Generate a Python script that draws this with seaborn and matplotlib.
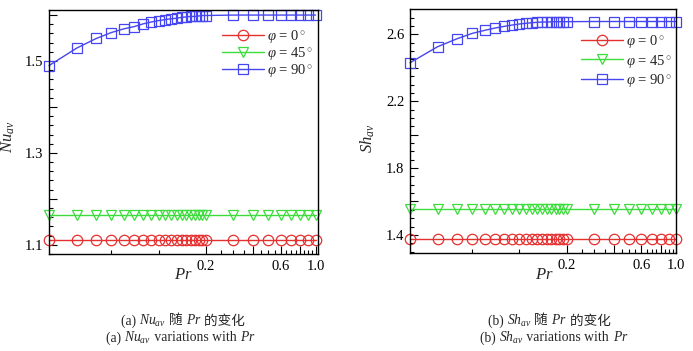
import numpy as np
import pandas as pd
import matplotlib
matplotlib.use("Agg")
import matplotlib.pyplot as plt
from matplotlib.ticker import FixedLocator, FixedFormatter, NullFormatter
import seaborn as sns

# ---------------- data ----------------
pr = [0.02, 0.03, 0.04, 0.05, 0.06, 0.07, 0.08, 0.09, 0.10, 0.11, 0.12, 0.13,
      0.14, 0.15, 0.16, 0.17, 0.18, 0.19, 0.20, 0.3, 0.4, 0.5, 0.6, 0.7, 0.8,
      0.9, 1.0]

nu_0 = [1.110, 1.110, 1.110, 1.110, 1.110, 1.110, 1.110, 1.110, 1.110, 1.110,
        1.110, 1.110, 1.110, 1.110, 1.110, 1.110, 1.110, 1.110, 1.110, 1.110,
        1.110, 1.110, 1.110, 1.110, 1.110, 1.110, 1.110]
nu_45 = [1.164, 1.164, 1.164, 1.164, 1.164, 1.164, 1.164, 1.164, 1.164, 1.164,
         1.164, 1.164, 1.164, 1.164, 1.164, 1.164, 1.164, 1.164, 1.164, 1.164,
         1.164, 1.164, 1.164, 1.164, 1.164, 1.164, 1.164]
nu_90 = [1.490, 1.528, 1.549, 1.562, 1.570, 1.575, 1.581, 1.585, 1.588, 1.590,
         1.592, 1.593, 1.595, 1.596, 1.597, 1.597, 1.598, 1.599, 1.599, 1.600,
         1.600, 1.600, 1.600, 1.600, 1.600, 1.600, 1.600]

sh_0 = [1.375, 1.375, 1.375, 1.375, 1.375, 1.375, 1.375, 1.375, 1.375, 1.375,
        1.375, 1.375, 1.375, 1.375, 1.375, 1.375, 1.375, 1.375, 1.375, 1.375,
        1.375, 1.375, 1.375, 1.375, 1.375, 1.375, 1.375]
sh_45 = [1.554, 1.554, 1.554, 1.554, 1.554, 1.554, 1.554, 1.554, 1.554, 1.554,
         1.554, 1.554, 1.554, 1.554, 1.554, 1.554, 1.554, 1.554, 1.554, 1.554,
         1.554, 1.554, 1.554, 1.554, 1.554, 1.554, 1.554]
sh_90 = [2.430, 2.526, 2.574, 2.606, 2.624, 2.638, 2.648, 2.656, 2.662, 2.666,
         2.670, 2.672, 2.674, 2.674, 2.675, 2.676, 2.676, 2.676, 2.676, 2.677,
         2.677, 2.677, 2.677, 2.677, 2.677, 2.677, 2.677]

series_labels = [r"$\varphi$ = 0$^\circ$", r"$\varphi$ = 45$^\circ$", r"$\varphi$ = 90$^\circ$"]

x_major = [0.2, 0.4, 0.6, 0.8, 1.0]
x_major_labels = ["0.2", "", "0.6", "", "1.0"]
x_minor = [0.05, 0.1, 0.25, 0.3, 0.35, 0.45, 0.5, 0.55, 0.65, 0.7, 0.75,
           0.85, 0.9, 0.95]

nu_major = [1.1, 1.2, 1.3, 1.4, 1.5, 1.6]
nu_major_labels = ["1.1", "", "1.3", "", "1.5", ""]
sh_major = [1.4, 1.6, 1.8, 2.0, 2.2, 2.4, 2.6]
sh_major_labels = ["1.4", "", "1.8", "", "2.2", "", "2.6"]

caption_a1 = ["(a) ", r"$\mathit{Nu}_{\mathit{av}}$", " 随 ", r"$\mathit{Pr}$", " 的变化"]
caption_a2 = ["(a) ", r"$\mathit{Nu}_{\mathit{av}}$", " variations with ", r"$\mathit{Pr}$"]
caption_b1 = ["(b) ", r"$\mathit{Sh}_{\mathit{av}}$", " 随 ", r"$\mathit{Pr}$", " 的变化"]
caption_b2 = ["(b) ", r"$\mathit{Sh}_{\mathit{av}}$", " variations with ", r"$\mathit{Pr}$"]

# ---------------- style ----------------
sns.set_style("ticks")
plt.rcParams["font.family"] = ["Liberation Serif", "Noto Sans CJK SC"]
plt.rcParams["mathtext.fontset"] = "custom"
plt.rcParams["mathtext.rm"] = "Liberation Serif"
plt.rcParams["mathtext.it"] = "Liberation Serif:italic"
plt.rcParams["mathtext.bf"] = "Liberation Serif:bold"

colors = ["#e53030", "#3ddc3d", "#4646f0"]
markers = ["o", "v", "s"]
msizes = [7.5, 7.0, 6.5]

fig = plt.figure(figsize=(6.93, 3.51), dpi=100)
ax1 = fig.add_axes([49 / 693, 1 - 254 / 351, 269 / 693, 244 / 351])
ax2 = fig.add_axes([410 / 693, 1 - 253.3 / 351, 266 / 693, 244 / 351])


def draw(ax, ys, ylim, ymaj, ymaj_lab, ymin_step, xlim, ylabel, ylabel_xy,
         xlabel_xy, leg_anchor, leg_spacing):
    for y, c, m, ms, lab in zip(ys, colors, markers, msizes, series_labels):
        df = pd.DataFrame({"Pr": pr, "v": y})
        sns.lineplot(data=df, x="Pr", y="v", ax=ax, color=c, marker=m,
                     markersize=ms, markerfacecolor="none",
                     markeredgecolor=c, markeredgewidth=0.9, linewidth=1.0,
                     label=lab, clip_on=False)
    ax.set_xscale("log")
    ax.set_xlim(*xlim)
    ax.set_ylim(*ylim)
    ax.xaxis.set_major_locator(FixedLocator(x_major))
    ax.xaxis.set_major_formatter(FixedFormatter(x_major_labels))
    ax.xaxis.set_minor_locator(FixedLocator(x_minor))
    ax.xaxis.set_minor_formatter(NullFormatter())
    ax.yaxis.set_major_locator(FixedLocator(ymaj))
    ax.yaxis.set_major_formatter(FixedFormatter(ymaj_lab))
    yminors = np.arange(ylim[0] - ylim[0] % ymin_step, ylim[1], ymin_step)
    ax.yaxis.set_minor_locator(FixedLocator(list(yminors)))
    ax.yaxis.set_minor_formatter(NullFormatter())
    ax.tick_params(which="both", direction="in", top=False, right=False,
                   colors="black", labelsize=10.5, width=0.8)
    ax.tick_params(which="major", length=6, pad=4)
    ax.tick_params(which="minor", length=3)
    for s in ax.spines.values():
        s.set_visible(True)
        s.set_color("black")
        s.set_linewidth(1.0)
    ax.set_xlabel(r"$\mathit{Pr}$", fontsize=12)
    ax.set_ylabel(ylabel, fontsize=12)
    ax.xaxis.set_label_coords(*xlabel_xy)
    ax.yaxis.set_label_coords(*ylabel_xy)
    ax.legend(loc="center left", bbox_to_anchor=leg_anchor, frameon=False,
              fontsize=10.5, handlelength=2.9, handletextpad=0.2,
              labelspacing=leg_spacing, borderpad=0, borderaxespad=0)


draw(ax1, [nu_0, nu_45, nu_90], (1.080, 1.611), nu_major, nu_major_labels,
     0.02, (0.02, 1.037), r"$\mathit{Nu}_{\mathit{av}}$", (-0.12, 0.48),
     (0.498, -0.055), (0.643, 0.82), 0.0)
draw(ax2, [sh_0, sh_45, sh_90], (1.29, 2.75), sh_major, sh_major_labels,
     0.05, (0.02, 1.0), r"$\mathit{Sh}_{\mathit{av}}$", (-0.125, 0.47),
     (0.507, -0.055), (0.643, 0.788), 0.15)

renderer = fig.canvas.get_renderer()


def caption(pieces, xc_px, yc_px, size=9.8):
    texts = []
    widths = []
    for p in pieces:
        fam = ["Noto Sans CJK SC", "Liberation Serif"] if any(ord(ch) > 0x2E80 for ch in p) else ["Liberation Serif"]
        t = fig.text(0, 0, p, fontsize=size, family=fam, va="baseline", ha="left")
        w = t.get_window_extent(renderer).width
        texts.append(t)
        widths.append(w)
    total = sum(widths)
    x = xc_px - total / 2
    ybase = 351 - yc_px - size * 0.35
    for t, w in zip(texts, widths):
        t.set_position((x / 693, ybase / 351))
        x += w


caption(caption_a1, 183, 321)
caption(caption_a2, 181, 338)
caption(caption_b1, 549, 321)
caption(caption_b2, 554, 338)

fig.savefig("out.png", dpi=100)
